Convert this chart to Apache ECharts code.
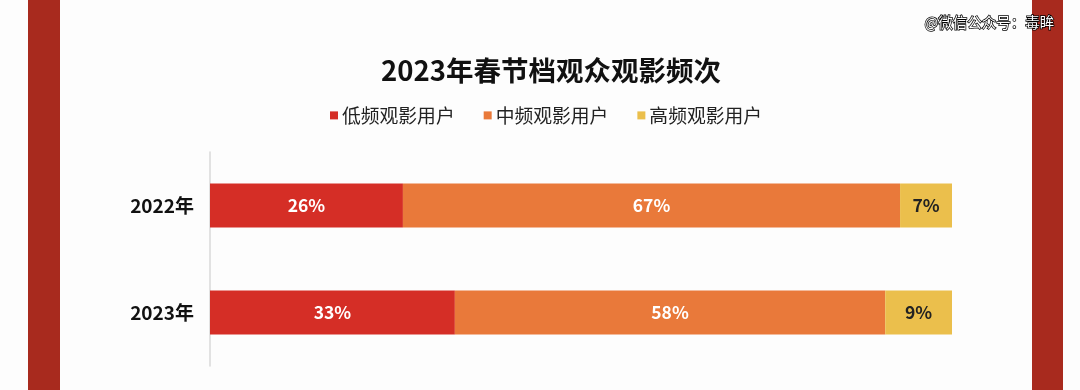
<!DOCTYPE html>
<html><head><meta charset="utf-8">
<script src="https://cdn.jsdelivr.net/npm/echarts@6/dist/echarts.min.js"></script>
<style>html,body{margin:0;padding:0;background:#fff}#c{width:1080px;height:390px}</style>
</head><body><div id="c"></div>
<script>
const categories = ['2022年', '2023年'];
const seriesNames = ['低频观影用户', '中频观影用户', '高频观影用户'];
const lowFreq = [26, 33];
const midFreq = [67, 58];
const highFreq = [7, 9];
const colors = ['#d52e26', '#e9793a', '#ebbf4c'];
const labelColors = ['#ffffff', '#ffffff', '#222222'];
const font = '"Noto Sans CJK SC", "Noto Sans", sans-serif';

const values = [lowFreq, midFreq, highFreq];
const chart = echarts.init(document.getElementById('c'));
chart.setOption({
  backgroundColor: '#fdfdfd',
  animation: false,
  title: {
    text: '2023年春节档观众观影频次', left: 376, top: 52,
    textStyle: { fontFamily: font, fontSize: 27.5, fontWeight: 'bold', color: '#111' }
  },
  legend: {
    top: 101, left: 325, itemWidth: 8, itemHeight: 8, itemGap: 29, icon: 'rect',
    textStyle: { fontFamily: font, fontSize: 18.8, color: '#222', padding: [0, 0, 0, -1] },
    data: seriesNames
  },
  grid: { left: 210, right: 128, top: 152, bottom: 24 },
  xAxis: { type: 'value', min: 0, max: 100, show: false },
  yAxis: {
    type: 'category', data: categories, inverse: true,
    axisLine: { show: true, lineStyle: { color: '#d8d8d8', width: 1.5 } },
    axisTick: { show: false },
    axisLabel: { fontFamily: font, fontSize: 19, fontWeight: 'bold', color: '#111', margin: 16 }
  },
  series: seriesNames.map((n, i) => ({
    name: n, type: 'bar', stack: 'total', barWidth: 44,
    itemStyle: { color: colors[i] },
    label: { show: true, position: 'inside', formatter: '{c}%', fontFamily: font, fontSize: 17.5, fontWeight: 'bold', color: labelColors[i] },
    data: values[i]
  })),
  graphic: [
    { type: 'rect', shape: { x: 28, y: 0, width: 32, height: 390 }, style: { fill: '#a82a1e' }, z: 100 },
    { type: 'rect', shape: { x: 1032, y: 0, width: 31, height: 390 }, style: { fill: '#a82a1e' }, z: 100 },
    { type: 'text', right: 25, top: 14, z: 101,
      style: { text: '@微信公众号：毒眸', fontFamily: font, fontSize: 14.5, fill: '#fff', stroke: '#000', lineWidth: 1.5 } }
  ]
});
</script></body></html>
